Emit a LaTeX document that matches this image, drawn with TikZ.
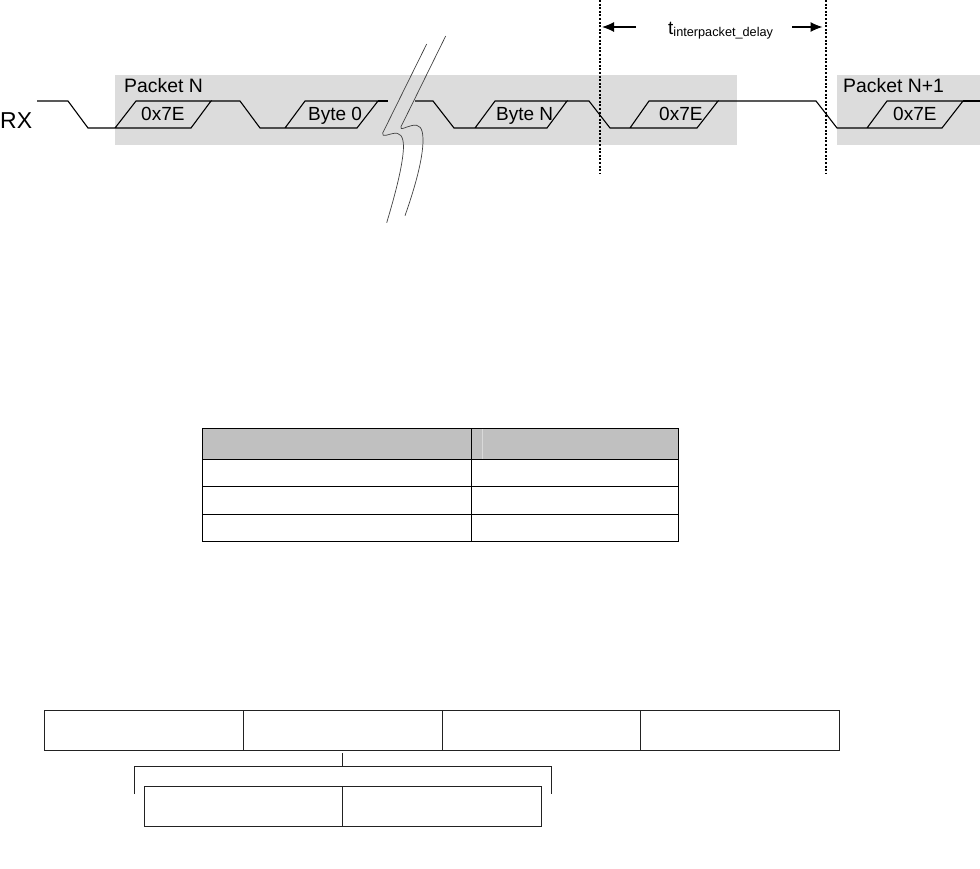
\documentclass[tikz,border=0pt]{standalone}
\usepackage{fontspec}
\setmainfont{Liberation Sans}
\usetikzlibrary{arrows.meta}
\definecolor{pktgrey}{HTML}{DCDCDC}
\definecolor{hdrgrey}{HTML}{C0C0C0}
\definecolor{inkdark}{HTML}{222222}
\tikzset{
  lbl/.style={anchor=base west,inner sep=0pt,text=black},
  bytelbl/.style={lbl,font=\fontsize{19}{20}\selectfont},
  pktlbl/.style={lbl,font=\fontsize{19.4}{21}\selectfont},
  pktband/.style={fill=pktgrey,draw=none},
  signal/.style={draw=black,line width=1.1pt,line join=miter},
  delimit/.style={draw=black,line width=2.2pt,dash pattern=on 2pt off 1.6pt},
  delayarrow/.style={draw=black,line width=1.1pt,-{Latex[length=12pt,width=10pt]}},
  breakline/.style={draw=black!75,line width=0.7pt},
  tblline/.style={draw=black,line width=1.1pt},
  cellbox/.style={draw=inkdark,line width=1.1pt},
  bracketline/.style={draw=inkdark,line width=1.1pt}
}
\begin{document}
\begin{tikzpicture}[x=1pt,y=-1pt]
\useasboundingbox (0,0) rectangle (980,868);
% packet bands
\fill[pktgrey] (115,75) rectangle (737,145);
\fill[pktgrey] (837,75) rectangle (980,145);
% signal
\draw[signal] (37,101) -- (68,101) -- (88,128) -- (191,128) -- (211,101) -- (136,101) -- (115,128);
\draw[signal] (211,101) -- (240,101) -- (260,128) -- (357,128) -- (378,101) -- (305,101) -- (285,128);
\draw[signal] (378,101) -- (388,101);
\draw[signal] (415,101) -- (433,101) -- (454,128) -- (547,128) -- (567,101) -- (495,101) -- (475,128);
\draw[signal] (567,101) -- (589,101) -- (610,128) -- (697,128) -- (718,101) -- (649,101) -- (630,128);
\draw[signal] (718,101) -- (816,101) -- (837,128) -- (942,128) -- (963,101) -- (887,101) -- (867,128);
\draw[signal] (963,101) -- (980,101);
% break mark
\draw[breakline] (426.7,44) -- (382.7,133) .. controls (381.5,138) and (389,134) .. (393,133.5) .. controls (400,132) and (403.5,136) .. (403.5,147) .. controls (403,165) and (395,195) .. (386.7,222.7);
\draw[breakline] (445.7,36) -- (401,126.7) .. controls (400,131) and (405,127) .. (412,125.5) .. controls (419,124) and (423,127) .. (423,140) .. controls (423,160) and (414,190) .. (405,215.7);
% labels
\node[lbl,font=\fontsize{23}{24}\selectfont] (rx) at (0,128) {RX};
\node[pktlbl] (pn) at (124,92) {Packet N};
\node[pktlbl] (pn1) at (843,92) {Packet N+1};
\node[bytelbl] (b1) at (141,120) {0x7E};
\node[bytelbl] (b2) at (308,120) {Byte 0};
\node[bytelbl] (b3) at (496,120) {Byte N};
\node[bytelbl] (b4) at (659,120) {0x7E};
\node[bytelbl] (b5) at (893,120) {0x7E};
% delay markers
\coordinate (d1t) at (600,0); \coordinate (d1b) at (600,174);
\coordinate (d2t) at (826,0); \coordinate (d2b) at (826,174);
\draw[delimit] (d1t) -- (d1b);
\draw[delimit] (d2t) -- (d2b);
\node[lbl,font=\fontsize{19}{20}\selectfont] (tlab) at (668,34.5) {t\raisebox{-2.2pt}{\fontsize{12.7}{13}\selectfont interpacket\_delay}};
\coordinate (a1s) at (636,27); \coordinate (a1e) at (602,27);
\coordinate (a2s) at (792,27); \coordinate (a2e) at (822.5,27);
\draw[delayarrow] (a1s) -- (a1e);
\draw[delayarrow] (a2s) -- (a2e);
% table
\fill[hdrgrey] (202.5,428.5) rectangle (678.5,459.5);
\draw[draw=black!15,line width=1pt] (482.7,429) -- (482.7,459);
\draw[tblline] (202.5,428.5) rectangle (678.5,541.5);
\draw[tblline] (471.5,428.5) -- (471.5,541.5);
\draw[tblline] (202.5,459.5) -- (678.5,459.5);
\draw[tblline] (202.5,486.5) -- (678.5,486.5);
\draw[tblline] (202.5,514.5) -- (678.5,514.5);
% field boxes
\draw[cellbox] (44.5,710.5) rectangle (243.5,750.5);
\draw[cellbox] (243.5,710.5) rectangle (442.5,750.5);
\draw[cellbox] (442.5,710.5) rectangle (640.5,750.5);
\draw[cellbox] (640.5,710.5) rectangle (839.5,750.5);
% bracket
\coordinate (bt) at (342.5,753); \coordinate (bm) at (342.5,766.5);
\coordinate (bl) at (134.5,794); \coordinate (br) at (551.5,794);
\draw[bracketline] (bt) -- (bm);
\draw[bracketline] (bl) |- (br |- bm) -- (br);
% sub boxes
\draw[cellbox] (144.5,786.5) rectangle (342.5,826.5);
\draw[cellbox] (342.5,786.5) rectangle (541.5,826.5);
\end{tikzpicture}
\end{document}
